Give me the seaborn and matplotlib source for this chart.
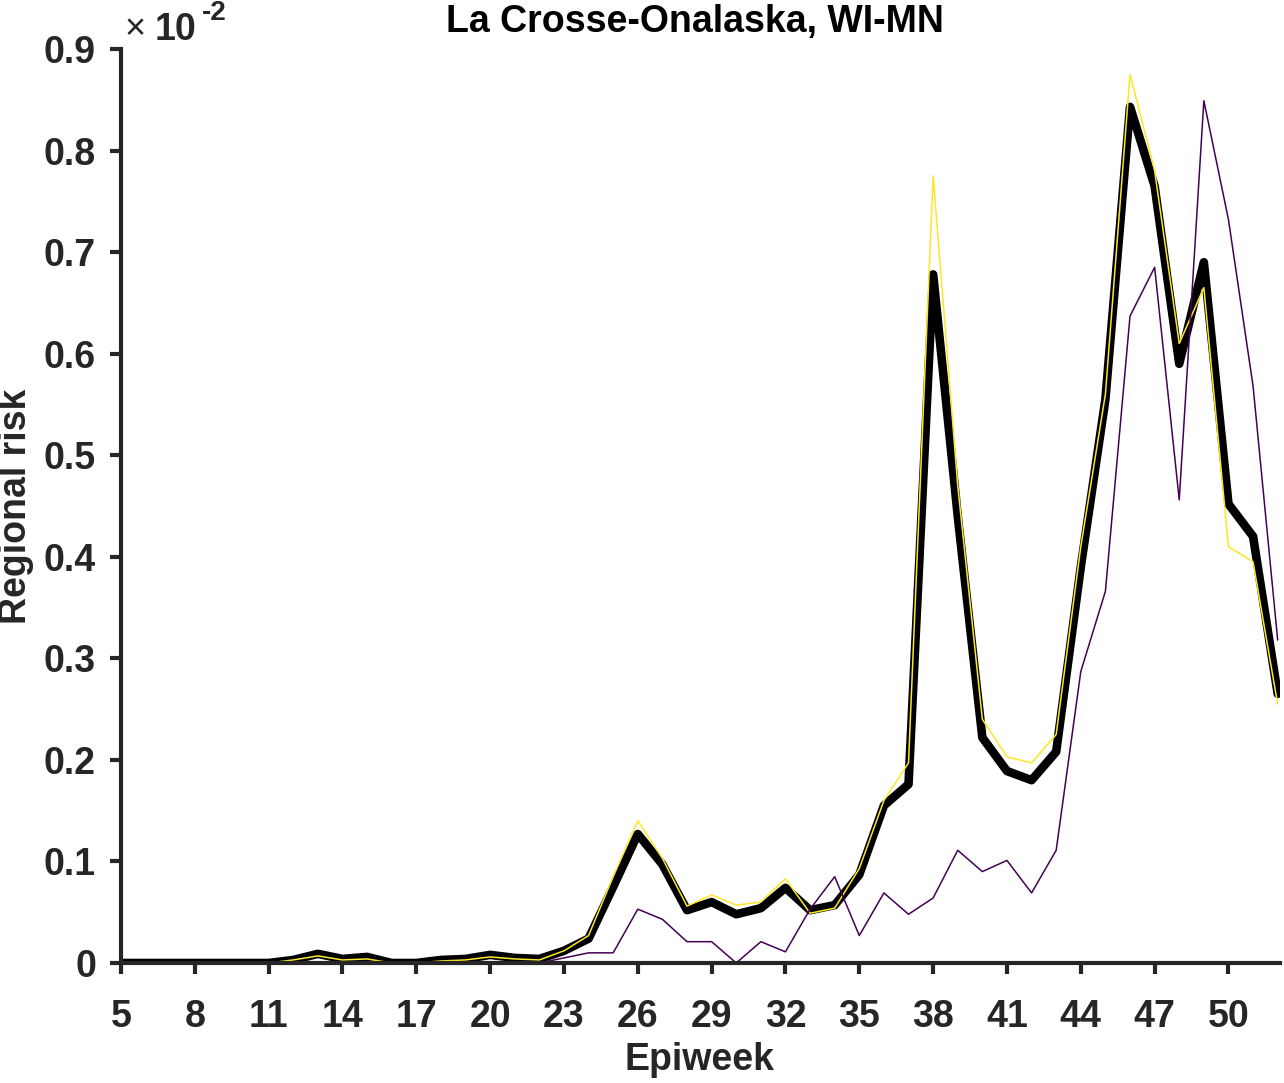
import numpy as np
import pandas as pd
import matplotlib
matplotlib.use("Agg")
import matplotlib.pyplot as plt
import seaborn as sns

# Epiweeks 5..52, risk in units of 1e-2
weeks = list(range(5, 53))

ensemble = [0.0, 0.0, 0.0, 0.0, 0.0, 0.0, 0.0, 0.003, 0.009, 0.004,
            0.006, 0.0, 0.0, 0.003, 0.004, 0.008, 0.005, 0.004, 0.012, 0.024,
            0.075, 0.127, 0.097, 0.052, 0.060, 0.048, 0.054, 0.074, 0.052, 0.057,
            0.087, 0.155, 0.176, 0.678, 0.440, 0.222, 0.189, 0.180, 0.208, 0.390,
            0.555, 0.843, 0.765, 0.590, 0.690, 0.452, 0.420, 0.265]

model_a = [0.0, 0.0, 0.0, 0.0, 0.0, 0.0, 0.0, 0.003, 0.007, 0.003,
           0.004, 0.0, 0.0, 0.002, 0.003, 0.006, 0.004, 0.003, 0.012, 0.027,
           0.085, 0.140, 0.103, 0.056, 0.067, 0.057, 0.060, 0.083, 0.049, 0.054,
           0.093, 0.160, 0.197, 0.775, 0.470, 0.240, 0.203, 0.197, 0.225, 0.410,
           0.560, 0.875, 0.780, 0.610, 0.665, 0.410, 0.395, 0.255]

model_b = [0.0, 0.0, 0.0, 0.0, 0.0, 0.0, 0.0, 0.0, 0.0, 0.0,
           0.0, 0.0, 0.0, 0.0, 0.0, 0.0, 0.0, 0.0, 0.005, 0.010,
           0.010, 0.053, 0.043, 0.021, 0.021, 0.000, 0.021, 0.011, 0.053, 0.085,
           0.027, 0.069, 0.048, 0.064, 0.111, 0.090, 0.101, 0.069, 0.111, 0.287,
           0.366, 0.637, 0.685, 0.456, 0.849, 0.732, 0.568, 0.318]

title = "La Crosse-Onalaska, WI-MN"
xticks = list(range(5, 51, 3))
yticks = [0, 0.1, 0.2, 0.3, 0.4, 0.5, 0.6, 0.7, 0.8, 0.9]
ytick_labels = ["0", "0.1", "0.2", "0.3", "0.4", "0.5", "0.6", "0.7", "0.8", "0.9"]

df = pd.DataFrame({"Epiweek": weeks, "ens": ensemble, "a": model_a, "b": model_b})

sns.set_style("white")
plt.rcParams["font.family"] = ["Liberation Sans", "DejaVu Sans"]
plt.rcParams["font.weight"] = "bold"
ink = "#262626"

W, H = 1284, 1083
fig = plt.figure(figsize=(W / 100, H / 100), dpi=100)
ax = fig.add_axes([0.0942, 0.1108, 0.9028, 0.844])

sns.lineplot(data=df, x="Epiweek", y="ens", ax=ax, color="black", linewidth=6.2,
             solid_joinstyle="round", solid_capstyle="round")
sns.lineplot(data=df, x="Epiweek", y="a", ax=ax, color="#FDE725", linewidth=1.1)
sns.lineplot(data=df, x="Epiweek", y="b", ax=ax, color="#440154", linewidth=1.1)

ax.set_xlim(5, 52.1)
ax.set_ylim(0, 0.9)
ax.set_xticks(xticks)
ax.set_xticklabels([str(t) for t in xticks])
ax.set_yticks(yticks)
ax.set_yticklabels(ytick_labels)

for s in ["top", "right"]:
    ax.spines[s].set_visible(False)
for s in ["left", "bottom"]:
    ax.spines[s].set_linewidth(3.0)
    ax.spines[s].set_color(ink)

ax.tick_params(axis="both", direction="out", length=8, width=3.0, color=ink,
               labelsize=27, labelcolor=ink, bottom=True, left=True)
ax.tick_params(axis="x", pad=18)
ax.tick_params(axis="y", pad=10)
for lab in ax.get_xticklabels() + ax.get_yticklabels():
    lab.set_fontweight("bold")

ax.set_xlabel("")
ax.set_ylabel("")
fig.text(700 / W, 1 - 1060 / H, "Epiweek", fontsize=27, fontweight="bold",
         color=ink, ha="center", va="center")
fig.text(16 / W, 1 - 506 / H, "Regional risk", fontsize=27, fontweight="bold",
         color=ink, ha="center", va="center", rotation=90)
fig.text(695 / W, 1 - 22 / H, title, fontsize=27, fontweight="bold",
         color="black", ha="center", va="center")

# exponent marker in the MATLAB style
fig.text(135 / W, 1 - 30 / H, "\u00d7", fontsize=26, fontweight="normal",
         color=ink, ha="center", va="center")
fig.text(155 / W, 1 - 40 / H, "10", fontsize=27, fontweight="bold",
         color=ink, ha="left", va="baseline")
fig.text(202 / W, 1 - 20 / H, "-2", fontsize=20, fontweight="bold",
         color=ink, ha="left", va="baseline")

fig.savefig("out.png", dpi=100)
